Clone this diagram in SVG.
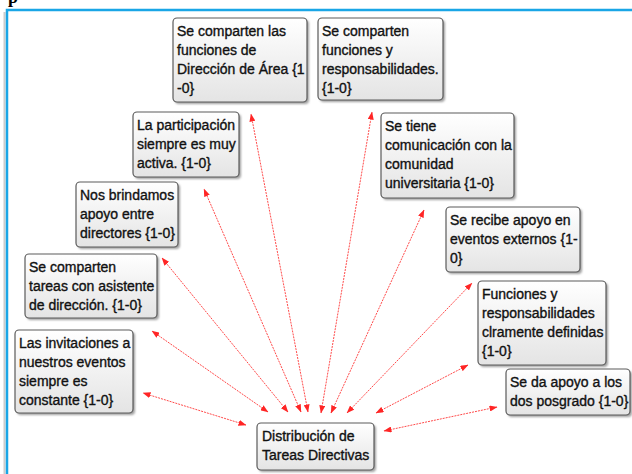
<svg xmlns="http://www.w3.org/2000/svg" width="632" height="474" viewBox="0 0 632 474">
<defs>
<linearGradient id="g" x1="0" y1="0" x2="0" y2="1">
<stop offset="0" stop-color="#ffffff"/>
<stop offset="1" stop-color="#e4e4e4"/>
</linearGradient>
<filter id="sh" x="-10%" y="-10%" width="130%" height="130%">
<feGaussianBlur stdDeviation="1.2"/>
</filter>
<marker id="ah" viewBox="0 0 8 6" refX="7.5" refY="3" markerWidth="8" markerHeight="6" markerUnits="userSpaceOnUse" orient="auto-start-reverse">
<path d="M0,0 L8,3 L0,6 z" fill="#ff0000"/>
</marker>
</defs>
<style>
.box{fill:url(#g);stroke:#5a5a5a;stroke-width:1.2}
.shd{fill:#777;opacity:0.7;filter:url(#sh)}
.t{font-family:"Liberation Sans",Arial,sans-serif;font-size:14px;fill:#111;stroke:#111;stroke-width:0.35}
.c{fill:none;stroke:#ff2a2a;stroke-width:1;stroke-dasharray:2 1;opacity:0.85;marker-start:url(#ah);marker-end:url(#ah)}
</style>
<rect width="632" height="474" fill="#fff"/>
<text x="8" y="3" font-family="Liberation Serif" font-weight="bold" font-size="18">p</text>
<line x1="4.5" y1="12" x2="4.5" y2="474" stroke="#ccc" stroke-width="2"/>
<path d="M7,474 V10 H632" fill="none" stroke="#1aa6e6" stroke-width="2.5"/>

<g id="connectors">
<line class="c" x1="246" y1="425" x2="143" y2="393"/>
<line class="c" x1="268" y1="412" x2="152" y2="331"/>
<line class="c" x1="288" y1="412" x2="162" y2="258"/>
<line class="c" x1="301" y1="412" x2="204" y2="189"/>
<line class="c" x1="308" y1="412" x2="251" y2="114"/>
<line class="c" x1="321" y1="413" x2="372" y2="112"/>
<line class="c" x1="331" y1="413" x2="424" y2="210"/>
<line class="c" x1="347" y1="413" x2="472" y2="283"/>
<line class="c" x1="376" y1="413" x2="468" y2="365"/>
<line class="c" x1="384" y1="431" x2="497" y2="407"/>
</g>

<g id="n1">
<rect class="shd" x="175" y="20" width="134" height="84" rx="4"/>
<rect class="box" x="173" y="18" width="134" height="84" rx="4"/>
<text class="t" x="177" y="36">Se comparten las</text>
<text class="t" x="177" y="55">funciones de</text>
<text class="t" x="177" y="74">Dirección de Área {1</text>
<text class="t" x="177" y="93">-0}</text>
</g>
<g id="n2">
<rect class="shd" x="320" y="20" width="125" height="82" rx="4"/>
<rect class="box" x="318" y="18" width="125" height="82" rx="4"/>
<text class="t" x="322" y="36">Se comparten</text>
<text class="t" x="322" y="55">funciones y</text>
<text class="t" x="322" y="74">responsabilidades.</text>
<text class="t" x="322" y="93">{1-0}</text>
</g>
<g id="n3">
<rect class="shd" x="135" y="114" width="106" height="65" rx="4"/>
<rect class="box" x="133" y="112" width="106" height="65" rx="4"/>
<text class="t" x="137" y="130">La participación</text>
<text class="t" x="137" y="149">siempre es muy</text>
<text class="t" x="137" y="168">activa. {1-0}</text>
</g>
<g id="n4">
<rect class="shd" x="78" y="184" width="102" height="65" rx="4"/>
<rect class="box" x="76" y="182" width="102" height="65" rx="4"/>
<text class="t" x="80" y="200">Nos brindamos</text>
<text class="t" x="80" y="219">apoyo entre</text>
<text class="t" x="80" y="238">directores {1-0}</text>
</g>
<g id="n5">
<rect class="shd" x="27" y="256" width="132" height="64" rx="4"/>
<rect class="box" x="25" y="254" width="132" height="64" rx="4"/>
<text class="t" x="29" y="272">Se comparten</text>
<text class="t" x="29" y="291">tareas con asistente</text>
<text class="t" x="29" y="310">de dirección. {1-0}</text>
</g>
<g id="n6">
<rect class="shd" x="17" y="332" width="118" height="83" rx="4"/>
<rect class="box" x="15" y="330" width="118" height="83" rx="4"/>
<text class="t" x="19" y="348">Las invitaciones a</text>
<text class="t" x="19" y="367">nuestros eventos</text>
<text class="t" x="19" y="386">siempre es</text>
<text class="t" x="19" y="405">constante {1-0}</text>
</g>
<g id="n7">
<rect class="shd" x="259" y="425" width="117" height="47" rx="4"/>
<rect class="box" x="257" y="423" width="117" height="47" rx="4"/>
<text class="t" x="262" y="441">Distribución de</text>
<text class="t" x="262" y="460">Tareas Directivas</text>
</g>
<g id="n8">
<rect class="shd" x="383" y="115" width="133" height="85" rx="4"/>
<rect class="box" x="381" y="113" width="133" height="85" rx="4"/>
<text class="t" x="385" y="131">Se tiene</text>
<text class="t" x="385" y="150">comunicación con la</text>
<text class="t" x="385" y="169">comunidad</text>
<text class="t" x="385" y="188">universitaria {1-0}</text>
</g>
<g id="n9">
<rect class="shd" x="448" y="209" width="134" height="65" rx="4"/>
<rect class="box" x="446" y="207" width="134" height="65" rx="4"/>
<text class="t" x="450" y="225">Se recibe apoyo en</text>
<text class="t" x="450" y="244">eventos externos {1-</text>
<text class="t" x="450" y="263">0}</text>
</g>
<g id="n10">
<rect class="shd" x="480" y="283" width="128" height="84" rx="4"/>
<rect class="box" x="478" y="281" width="128" height="84" rx="4"/>
<text class="t" x="482" y="299">Funciones y</text>
<text class="t" x="482" y="318">responsabilidades</text>
<text class="t" x="482" y="337">clramente definidas</text>
<text class="t" x="482" y="356">{1-0}</text>
</g>
<g id="n11">
<rect class="shd" x="508" y="371" width="124" height="46" rx="4"/>
<rect class="box" x="506" y="369" width="124" height="46" rx="4"/>
<text class="t" x="510" y="387">Se da apoyo a los</text>
<text class="t" x="510" y="406">dos posgrado {1-0}</text>
</g>
</svg>
